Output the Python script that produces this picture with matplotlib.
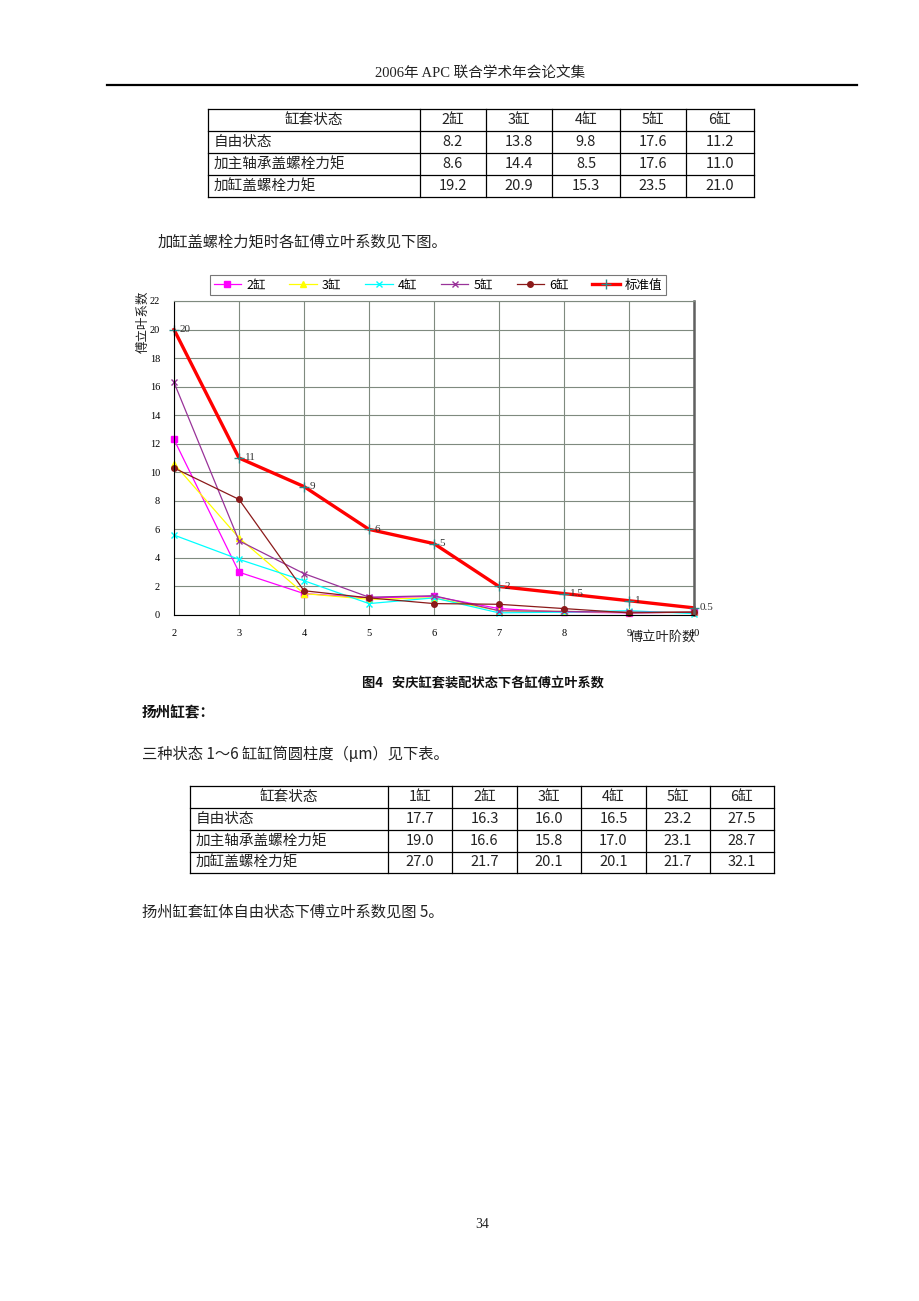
import numpy as np
import matplotlib.pyplot as plt

plt.rcParams['font.family'] = ['Noto Sans CJK SC', 'DejaVu Sans']

# ---- data ----
orders = [2, 3, 4, 5, 6, 7, 8, 9, 10]
cyl2 = [12.3, 3.0, 1.5, 1.2, 1.3, 0.45, 0.2, 0.15, 0.2]
cyl3 = [10.6, 5.4, 1.5, 1.1, 1.2, 0.3, 0.25, 0.2, 0.2]
cyl4 = [5.6, 3.9, 2.4, 0.8, 1.2, 0.15, 0.2, 0.3, 0.1]
cyl5 = [16.3, 5.2, 2.9, 1.25, 1.35, 0.3, 0.25, 0.2, 0.2]
cyl6 = [10.3, 8.1, 1.7, 1.2, 0.8, 0.75, 0.45, 0.15, 0.2]
std_vals = [20, 11, 9, 6, 5, 2, 1.5, 1, 0.5]
std_labels = ['20', '11', '9', '6', '5', '2', '1.5', '1', '0.5']

t1_cols = ['缸套状态', '2缸', '3缸', '4缸', '5缸', '6缸']
t1_rows = ['自由状态', '加主轴承盖螺栓力矩', '加缸盖螺栓力矩']
t1_vals = [['8.2', '13.8', '9.8', '17.6', '11.2'],
           ['8.6', '14.4', '8.5', '17.6', '11.0'],
           ['19.2', '20.9', '15.3', '23.5', '21.0']]

t2_cols = ['缸套状态', '1缸', '2缸', '3缸', '4缸', '5缸', '6缸']
t2_rows = ['自由状态', '加主轴承盖螺栓力矩', '加缸盖螺栓力矩']
t2_vals = [['17.7', '16.3', '16.0', '16.5', '23.2', '27.5'],
           ['19.0', '16.6', '15.8', '17.0', '23.1', '28.7'],
           ['27.0', '21.7', '20.1', '20.1', '21.7', '32.1']]

W, H = 920, 1301
fig = plt.figure(figsize=(W / 100, H / 100), dpi=100)

# page canvas in pixel coordinates
pg = fig.add_axes([0, 0, 1, 1])
pg.set_xlim(0, W)
pg.set_ylim(H, 0)
pg.axis('off')

serif = ['Liberation Serif', 'Noto Sans CJK SC']

# header
pg.text(480, 73, '2006年 APC 联合学术年会论文集', family=serif, fontsize=10.5,
        ha='center', va='center', color='#222222')
pg.plot([107, 857], [85, 85], color='black', lw=1.6)


def draw_table(xs, ys, cols, rows, vals):
    for y in ys:
        pg.plot([xs[0], xs[-1]], [y, y], color='black', lw=0.9)
    for x in xs:
        pg.plot([x, x], [ys[0], ys[-1]], color='black', lw=0.9)
    for j, c in enumerate(cols):
        pg.text((xs[j] + xs[j + 1]) / 2, (ys[0] + ys[1]) / 2, c, fontsize=10.5,
                ha='center', va='center', color='#222222')
    for i, r in enumerate(rows):
        yc = (ys[i + 1] + ys[i + 2]) / 2
        pg.text(xs[0] + 6, yc, r, fontsize=10.5, ha='left', va='center', color='#222222')
        for j, v in enumerate(vals[i]):
            pg.text((xs[j + 1] + xs[j + 2]) / 2, yc, v, fontsize=10.5,
                    ha='center', va='center', color='#222222')


draw_table([208, 420, 486, 552, 620, 686, 754], [109, 131, 153, 175, 197],
           t1_cols, t1_rows, t1_vals)

pg.text(158, 242, '加缸盖螺栓力矩时各缸傅立叶系数见下图。', fontsize=11,
        ha='left', va='center', color='#222222')

# ---- chart ----
ax = fig.add_axes([174 / W, 1 - 615 / H, 520 / W, 314 / H])
ax.set_xlim(2, 10)
ax.set_ylim(0, 22)
ax.set_xticks(orders)
ax.set_yticks(np.arange(0, 23, 2))
ax.grid(True, color='#7f8a7f', lw=0.8)
ax.set_axisbelow(True)
ax.tick_params(length=0, labelsize=7.5, pad=10)
for lab in ax.get_xticklabels() + ax.get_yticklabels():
    lab.set_family(serif)
ax.spines['left'].set_color('black')
ax.spines['bottom'].set_color('black')
ax.spines['top'].set_color('#7f8a7f')
ax.spines['right'].set_color('#606060')
ax.spines['right'].set_linewidth(1.8)

ax.plot(orders, cyl2, color='magenta', marker='s', ms=4, lw=0.9, label='2缸', clip_on=False)
ax.plot(orders, cyl3, color='yellow', marker='^', ms=4, lw=0.9, label='3缸', clip_on=False)
ax.plot(orders, cyl4, color='cyan', marker='x', ms=4, lw=0.9, label='4缸', clip_on=False)
ax.plot(orders, cyl5, color='#993399', marker='x', ms=4, lw=0.9, label='5缸', clip_on=False)
ax.plot(orders, cyl6, color='#8b1a1a', marker='o', ms=4, lw=0.9, label='6缸', clip_on=False)
ax.plot(orders, std_vals, color='red', lw=2.4, marker='+', ms=7, mec='#2a8a8a',
        label='标准值', clip_on=False)
for x, y, s in zip(orders, std_vals, std_labels):
    ax.annotate(s, (x, y), xytext=(4, 0), textcoords='offset points', fontsize=8,
                va='center', ha='left', family=serif, color='#333333', annotation_clip=False)

leg = ax.legend(loc='center', bbox_to_anchor=(438 / W, 1 - 285 / H),
                bbox_transform=fig.transFigure, ncol=6, fontsize=9, frameon=True,
                fancybox=False, edgecolor='#555555', handlelength=2.2, columnspacing=1.9,
                borderpad=0.3, handletextpad=0.4)
leg.get_frame().set_linewidth(0.8)

pg.text(143, 322, '傅立叶系数', fontsize=9, rotation=90, ha='center', va='center',
        color='#222222')
pg.text(663, 637, '傅立叶阶数', fontsize=9.5, ha='center', va='center', color='#222222')

pg.text(483, 683, '图4   安庆缸套装配状态下各缸傅立叶系数', fontsize=9.5, fontweight='bold',
        ha='center', va='center', color='#111111')
pg.text(142, 712, '扬州缸套：', fontsize=10.5, fontweight='bold', ha='left', va='center',
        color='#111111')
pg.text(142, 755, '三种状态 1～6 缸缸筒圆柱度（μm）见下表。', fontsize=11, ha='left',
        va='center', color='#222222')

draw_table([190, 388, 452, 517, 581, 646, 710, 774], [786, 808, 830, 852, 873],
           t2_cols, t2_rows, t2_vals)

pg.text(142, 912, '扬州缸套缸体自由状态下傅立叶系数见图 5。', fontsize=11, ha='left',
        va='center', color='#222222')

pg.text(482, 1225, '34', family=serif, fontsize=10, ha='center', va='center', color='#222222')

fig.savefig('out.png', dpi=100)
